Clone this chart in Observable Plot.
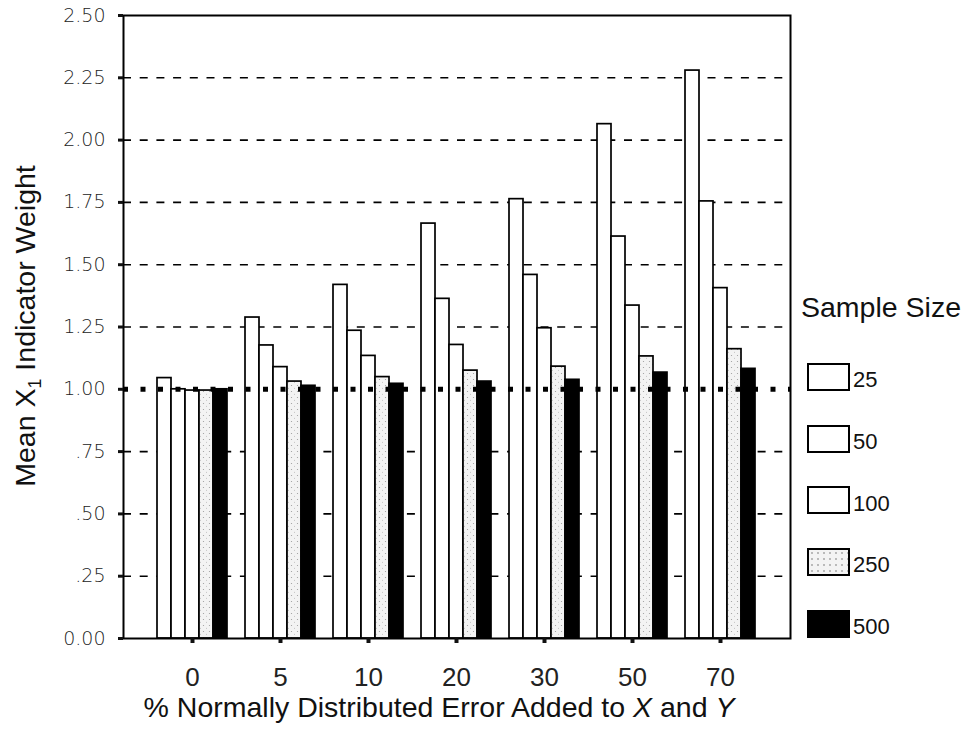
<!DOCTYPE html>
<html><head><meta charset="utf-8">
<script src="https://cdn.jsdelivr.net/npm/d3@7"></script>
<script src="https://cdn.jsdelivr.net/npm/@observablehq/plot@0.6"></script>
<style>
body{margin:0;background:#fff;font-family:"Liberation Sans",Arial,sans-serif;color:#111;}
#wrap{position:relative;width:966px;height:751px;overflow:hidden;background:#fff;}
#wrap svg{position:absolute;left:0;top:0;}
.ttl{position:absolute;font-size:28.5px;line-height:28px;white-space:nowrap;text-align:center;color:#111;}
.ttl sub{font-size:18px;vertical-align:-6px;line-height:0;}
.leg-title{position:absolute;left:801px;top:293px;font-size:28.5px;line-height:28px;white-space:nowrap;color:#111;}
.sw{position:absolute;left:807px;width:43px;height:28px;border:2px solid #000;box-sizing:border-box;}
.lab{position:absolute;left:853px;font-size:22px;line-height:22px;color:#111;}
.ytick text{font-family:"DejaVu Sans",sans-serif;font-weight:200;fill:#222;}
</style></head><body><div id="wrap"></div>
<script>
const groups = ["0","5","10","20","30","50","70"];
const sizes = ["25","50","100","250","500"];
const weights25  = [1.045, 1.288, 1.419, 1.665, 1.763, 2.064, 2.279];
const weights50  = [1.000, 1.176, 1.235, 1.363, 1.459, 1.613, 1.754];
const weights100 = [0.995, 1.089, 1.134, 1.178, 1.245, 1.336, 1.406];
const weights250 = [0.995, 1.031, 1.049, 1.075, 1.091, 1.132, 1.161];
const weights500 = [1.000, 1.014, 1.022, 1.031, 1.038, 1.067, 1.082];
const yTicks = [0, 0.25, 0.5, 0.75, 1, 1.25, 1.5, 1.75, 2, 2.25, 2.5];
const yTickLabels = ["0.00", ".25", ".50", ".75", "1.00", "1.25", "1.50", "1.75", "2.00", "2.25", "2.50"];
const referenceLine = [1];
const fills = ["#ffffff", "#ffffff", "#ffffff", "url(#stipple)", "#000000"];
const xTitle = "% Normally Distributed Error Added to <i>X</i> and <i>Y</i>";
const yTitle = "Mean X<sub>1</sub> Indicator Weight";
const legendTitle = "Sample Size";

const series = {"25": weights25, "50": weights50, "100": weights100, "250": weights250, "500": weights500};
const data = sizes.flatMap(s => groups.map((g, i) => ({group: g, size: s, value: series[s][i]})));
const gridValues = yTicks.filter(v => v > 0 && v < 2.5 && v !== 1);

const common = {
  width: 966, height: 751,
  marginLeft: 123, marginRight: 176, marginTop: 15, marginBottom: 113,
  style: {fontFamily: "Liberation Sans, Arial, sans-serif", background: "transparent", color: "#111", overflow: "visible"},
  y: {domain: [0, 2.5], axis: null}
};
const groupBand = {domain: groups, paddingInner: 0.2, paddingOuter: 0.36};

// background layer: dashed grid
const gridLayer = Plot.plot({
  ...common,
  marks: [Plot.ruleY(gridValues, {stroke: "#000", strokeWidth: 1.6, strokeDasharray: "8,8.7"})]
});

// bars layer: faceted by error level
const barLayer = Plot.plot({
  ...common,
  fx: {...groupBand, axis: null, label: null},
  x: {domain: sizes, padding: 0, axis: null},
  color: {domain: sizes, range: fills},
  marks: [Plot.barY(data, {fx: "group", x: "size", y: "value", fill: "size", stroke: "#000", strokeWidth: 1.7})]
});
d3.select(barLayer).insert("defs", ":first-child").html(
  `<pattern id="stipple" width="6" height="6" patternUnits="userSpaceOnUse">
     <rect width="6" height="6" fill="#f3f3f3"/>
     <circle cx="1.5" cy="1.5" r="0.6" fill="#9a9a9a"/>
     <circle cx="4.5" cy="4.2" r="0.5" fill="#b5b5b5"/>
   </pattern>`);

// top layer: reference line, frame, axes
const topLayer = Plot.plot({
  ...common,
  x: {type: "band", ...groupBand, label: null},
  marks: [
    Plot.ruleY(referenceLine, {stroke: "#000", strokeWidth: 5, strokeDasharray: "5,12.5"}),
    Plot.frame({stroke: "#000", strokeWidth: 2}),
    Plot.axisY(yTicks, {className: "ytick", tickFormat: d => yTickLabels[yTicks.indexOf(d)], tickSize: 5, tickPadding: 13, fontSize: 19, strokeWidth: 3, label: null}),
    Plot.axisX(groups, {tickSize: 5, tickPadding: 24, fontSize: 26, strokeWidth: 4, label: null, fill: "#222"})
  ]
});

const wrap = document.getElementById("wrap");
wrap.appendChild(gridLayer);
wrap.appendChild(barLayer);
wrap.appendChild(topLayer);

const yt = document.createElement("div");
yt.className = "ttl";
yt.innerHTML = yTitle;
yt.style.width = "400px";
yt.style.left = (25 - 200) + "px";
yt.style.top = (326 - 14) + "px";
yt.style.transform = "rotate(-90deg)";
yt.style.transformOrigin = "50% 50%";
wrap.appendChild(yt);

const xt = document.createElement("div");
xt.className = "ttl";
xt.innerHTML = xTitle;
xt.style.width = "800px";
xt.style.left = (439 - 400) + "px";
xt.style.top = "693px";
wrap.appendChild(xt);

const lt = document.createElement("div");
lt.className = "leg-title";
lt.textContent = legendTitle;
wrap.appendChild(lt);

const legendCenters = [377, 438.7, 500.4, 562, 623.8];
const swatchBg = ["#fff", "#fff", "#fff", "radial-gradient(circle, #9a9a9a 0.6px, #f3f3f3 0.9px) 0 0/6px 6px", "#000"];
sizes.forEach((s, i) => {
  const sw = document.createElement("div");
  sw.className = "sw";
  sw.style.top = (legendCenters[i] - 14) + "px";
  sw.style.background = swatchBg[i];
  wrap.appendChild(sw);
  const lb = document.createElement("div");
  lb.className = "lab";
  lb.textContent = s;
  lb.style.top = (legendCenters[i] + 3 - 10.7) + "px";
  wrap.appendChild(lb);
});
</script></body></html>
